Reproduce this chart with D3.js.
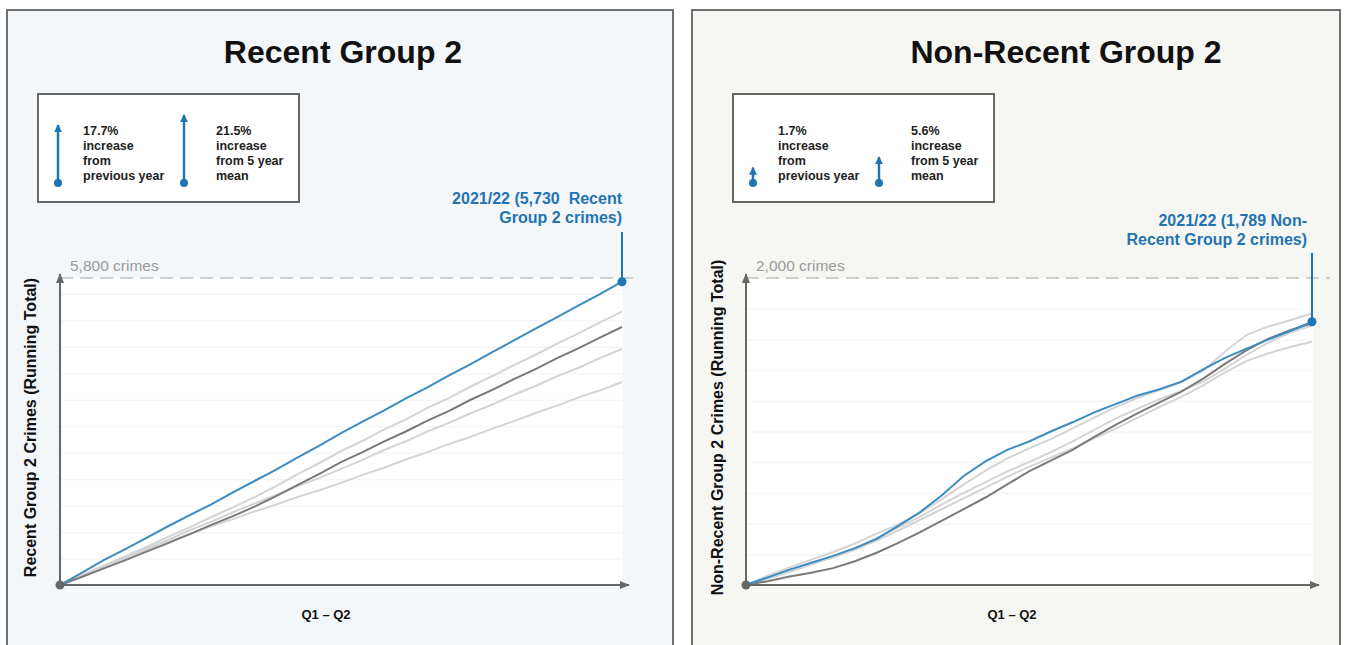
<!DOCTYPE html>
<html lang="en">
<head>
    <meta charset="UTF-8">
    <script src="https://d3js.org/d3.v7.min.js"></script>
    <title>Group 2 crimes - running total</title>
    <style>
        body { margin: 0; background: #fff; }
        text { font-family: "Liberation Sans", Arial, sans-serif; }
    </style>
</head>
<body>
<div id="chart"></div>
<script>
    // running totals, one value per week of Q1 - Q2 (week 0 .. 26)
    // Recent Group 2
    const recentCurrent = [0, 230, 465, 675, 890, 1110, 1320, 1525, 1750, 1965, 2180, 2410, 2635, 2870, 3085, 3300, 3525, 3735, 3960, 4175, 4400, 4620, 4845, 5060, 5285, 5500, 5730]
    const recentPrevYear = [0, 150, 310, 465, 630, 790, 960, 1135, 1300, 1480, 1680, 1890, 2100, 2320, 2510, 2715, 2900, 3105, 3290, 3500, 3685, 3890, 4080, 4285, 4475, 4680, 4874]
    const recentOlderA = [0, 180, 365, 540, 720, 910, 1090, 1285, 1465, 1660, 1870, 2095, 2305, 2530, 2725, 2940, 3130, 3345, 3535, 3750, 3945, 4155, 4350, 4560, 4760, 4965, 5163]
    const recentOlderB = [0, 170, 345, 510, 690, 855, 1035, 1195, 1375, 1540, 1700, 1870, 2025, 2195, 2365, 2550, 2715, 2900, 3065, 3245, 3410, 3595, 3760, 3945, 4105, 4290, 4459]
    const recentOlderC = [0, 170, 335, 510, 670, 825, 960, 1115, 1245, 1390, 1520, 1665, 1790, 1930, 2080, 2215, 2370, 2510, 2665, 2800, 2955, 3095, 3250, 3390, 3545, 3680, 3835]

    // Non-Recent Group 2
    const nonRecentCurrent = [0, 50, 100, 145, 190, 240, 300, 385, 475, 585, 710, 805, 880, 935, 1000, 1060, 1125, 1180, 1235, 1275, 1325, 1405, 1480, 1540, 1600, 1655, 1715]
    const nonRecentPrevYear = [0, 25, 55, 80, 110, 155, 210, 275, 345, 420, 495, 570, 655, 740, 810, 880, 965, 1045, 1120, 1190, 1260, 1345, 1440, 1530, 1605, 1660, 1705]
    const nonRecentOlderA = [0, 60, 115, 165, 215, 270, 335, 395, 470, 560, 655, 745, 825, 890, 950, 1020, 1090, 1160, 1220, 1270, 1320, 1395, 1520, 1630, 1685, 1725, 1770]
    const nonRecentOlderB = [0, 45, 95, 140, 180, 235, 305, 375, 445, 525, 600, 670, 740, 800, 865, 935, 1010, 1085, 1150, 1210, 1265, 1325, 1410, 1500, 1580, 1645, 1690]
    const nonRecentOlderC = [0, 40, 85, 135, 180, 230, 290, 355, 425, 495, 565, 635, 705, 770, 830, 890, 955, 1020, 1090, 1160, 1225, 1300, 1385, 1460, 1510, 1550, 1585]

    // legend: % increase from previous year, % increase from 5 year mean
    const recentChange = [17.7, 21.5]
    const nonRecentChange = [1.7, 5.6]
    const changeLabels = [["increase", "from", "previous year"], ["increase", "from 5 year", "mean"]]

    // axis maximum (dashed line) and annotation text
    const recentMax = 5800
    const nonRecentMax = 2000
    const recentNote = ["2021/22 (5,730  Recent", "Group 2 crimes)"]
    const nonRecentNote = ["2021/22 (1,789 Non-", "Recent Group 2 crimes)"]

    const BLUE = "#3a8cc3", DARK_BLUE = "#1f74b1", DARK = "#7a7a7a", LIGHT = "#d4d4d4"

    let vm = {}
    initSvg(vm)
    drawPanel(vm, {
        title: "Recent Group 2", yTitle: "Recent Group 2 Crimes (Running Total)",
        left: 7, right: 673, bg: "#f3f7fa", titleX: 343,
        plotLeft: 60, plotRight: 622, legendX: 38, yTitleX: 36, xTitleX: 326,
        max: recentMax, maxLabel: "5,800 crimes",
        current: recentCurrent, prev: recentPrevYear, older: [recentOlderA, recentOlderB, recentOlderC],
        change: recentChange, note: recentNote, noteDx: 0, stemTop: 232, noteY: 204
    })
    drawPanel(vm, {
        title: "Non-Recent Group 2", yTitle: "Non-Recent Group 2 Crimes (Running Total)",
        left: 692, right: 1340, bg: "#f6f7f3", titleX: 1066,
        plotLeft: 746, plotRight: 1312, legendX: 733, yTitleX: 723, xTitleX: 1012,
        max: nonRecentMax, maxLabel: "2,000 crimes",
        current: nonRecentCurrent, prev: nonRecentPrevYear, older: [nonRecentOlderA, nonRecentOlderB, nonRecentOlderC],
        change: nonRecentChange, note: nonRecentNote, noteDx: -5, stemTop: 253, noteY: 226
    })

    function initSvg(vm){
        vm.svg = d3.select("#chart").append("svg")
            .attr("width", 1347).attr("height", 645)
        let defs = vm.svg.append("defs")
        // arrow head for the axes
        defs.append("marker").attr("id", "arrowGray")
            .attr("viewBox", "0 0 10 10").attr("refX", 9).attr("refY", 5)
            .attr("markerUnits", "userSpaceOnUse").attr("markerWidth", 10).attr("markerHeight", 10)
            .attr("orient", "auto")
            .append("path").attr("d", "M0,1 L10,5 L0,9 z").attr("fill", "#666")
        // arrow head for the legend
        defs.append("marker").attr("id", "arrowBlue")
            .attr("viewBox", "0 0 10 10").attr("refX", 9).attr("refY", 5)
            .attr("markerUnits", "userSpaceOnUse").attr("markerWidth", 8).attr("markerHeight", 8)
            .attr("orient", "auto")
            .append("path").attr("d", "M0,0 L10,5 L0,10 z").attr("fill", DARK_BLUE)
        // arrow length follows the % change
        vm.arrowLen = d3.scaleLinear().domain([0, 21.5]).range([11, 68])
    }

    function drawPanel(vm, p){
        let g = vm.svg.append("g")
        const originY = 585, topY = 278

        // panel frame + title
        g.append("rect").attr("x", p.left).attr("y", 10)
            .attr("width", p.right - p.left).attr("height", 680)
            .attr("fill", p.bg).attr("stroke", "#707070").attr("stroke-width", 2)
        g.append("text").attr("x", p.titleX).attr("y", 63)
            .attr("text-anchor", "middle").attr("font-size", 32).attr("font-weight", "bold")
            .attr("fill", "#111").text(p.title)

        // legend box
        let lg = g.append("g").attr("transform", "translate(" + p.legendX + ",94)")
        lg.append("rect").attr("width", 261).attr("height", 108)
            .attr("fill", "#fff").attr("stroke", "#666").attr("stroke-width", 2)
        p.change.forEach((v, i) => {
            let ax = i === 0 ? 20 : 146
            let tx = i === 0 ? 45 : 178
            lg.append("line").attr("x1", ax).attr("x2", ax)
                .attr("y1", 89).attr("y2", 89 - vm.arrowLen(v))
                .attr("stroke", DARK_BLUE).attr("stroke-width", 2.5)
                .attr("marker-end", "url(#arrowBlue)")
            lg.append("circle").attr("cx", ax).attr("cy", 89).attr("r", 4).attr("fill", DARK_BLUE)
            let lines = [v + "%"].concat(changeLabels[i])
            lg.selectAll(null).data(lines).enter().append("text")
                .attr("x", tx).attr("y", (d, k) => 41 + k * 15)
                .attr("font-size", 12.5).attr("font-weight", "bold").attr("fill", "#222")
                .text(d => d)
        })

        // scales
        let X = d3.scaleLinear().domain([0, p.current.length - 1]).range([p.plotLeft, p.plotRight])
        let Y = d3.scaleLinear().domain([0, p.max]).range([originY, topY])

        // white plot area
        g.append("rect").attr("x", p.plotLeft).attr("y", topY)
            .attr("width", p.plotRight - p.plotLeft + 1).attr("height", originY - topY)
            .attr("fill", "#fff")

        // faint gridlines
        g.append("g").attr("transform", "translate(" + p.plotLeft + ",0)")
            .call(d3.axisLeft(Y).tickValues(Y.ticks(10).filter(t => t > 0 && t < p.max))
                .tickSize(-(p.plotRight - p.plotLeft)).tickFormat(""))
            .call(a => a.select(".domain").remove())
            .selectAll("line").attr("stroke", "#f4f4f4").attr("stroke-width", 1.2)

        // dashed maximum line
        g.append("line").attr("x1", p.plotLeft).attr("x2", p.plotRight + 18)
            .attr("y1", Y(p.max)).attr("y2", Y(p.max))
            .attr("stroke", "#cfcfcf").attr("stroke-width", 2).attr("stroke-dasharray", "13,7")
        g.append("text").attr("x", p.plotLeft + 10).attr("y", Y(p.max) - 7)
            .attr("font-size", 15.5).attr("fill", "#9a9a9a").text(p.maxLabel)

        // lines: older years, previous year, current year
        let line = d3.line().x((d, i) => X(i)).y(d => Y(d))
        g.selectAll(".older").data(p.older).enter().append("path")
            .attr("d", line).attr("fill", "none")
            .attr("stroke", LIGHT).attr("stroke-width", 2)
        g.append("path").datum(p.prev).attr("d", line).attr("fill", "none")
            .attr("stroke", DARK).attr("stroke-width", 2)
        g.append("path").datum(p.current).attr("d", line).attr("fill", "none")
            .attr("stroke", BLUE).attr("stroke-width", 2)

        // axes with arrow heads
        g.append("line").attr("x1", p.plotLeft).attr("x2", p.plotLeft)
            .attr("y1", originY).attr("y2", topY - 4)
            .attr("stroke", "#666").attr("stroke-width", 2).attr("marker-end", "url(#arrowGray)")
        g.append("line").attr("x1", p.plotLeft).attr("x2", p.plotRight + 7)
            .attr("y1", originY).attr("y2", originY)
            .attr("stroke", "#666").attr("stroke-width", 2).attr("marker-end", "url(#arrowGray)")
        g.append("circle").attr("cx", p.plotLeft).attr("cy", originY).attr("r", 4.5).attr("fill", "#666")

        // axis titles
        g.append("text").attr("x", p.xTitleX).attr("y", 619).attr("text-anchor", "middle")
            .attr("font-size", 13).attr("font-weight", "bold").attr("fill", "#111").text("Q1 \u2013 Q2")
        g.append("text").attr("transform", "translate(" + p.yTitleX + "," + ((originY + topY) / 2 - 4) + ") rotate(-90)")
            .attr("text-anchor", "middle").attr("font-size", 16).attr("font-weight", "bold")
            .attr("fill", "#111").text(p.yTitle)

        // annotation of the current total
        let last = p.current.length - 1
        g.append("line").attr("x1", X(last)).attr("x2", X(last))
            .attr("y1", p.stemTop).attr("y2", Y(p.current[last]))
            .attr("stroke", DARK_BLUE).attr("stroke-width", 2)
        g.append("circle").attr("cx", X(last)).attr("cy", Y(p.current[last])).attr("r", 4.5).attr("fill", DARK_BLUE)
        g.selectAll(null).data(p.note).enter().append("text")
            .attr("x", X(last) + p.noteDx).attr("y", (d, k) => p.noteY + k * 19)
            .attr("text-anchor", "end").attr("font-size", 16).attr("font-weight", "bold")
            .attr("fill", DARK_BLUE).style("white-space", "pre").text(d => d)
    }
</script>
</body>
</html>
